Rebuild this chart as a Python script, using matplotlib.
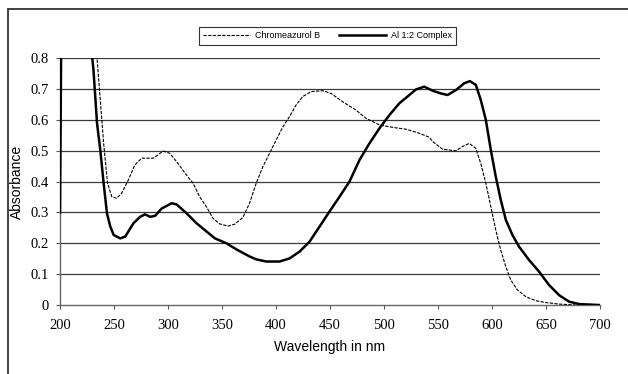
import matplotlib
matplotlib.use("Agg")
import matplotlib.pyplot as plt
from matplotlib.patches import Rectangle

plt.rcParams["font.family"] = "serif"
plt.rcParams["font.serif"] = ["Liberation Serif", "DejaVu Serif"]

# Data
cab_x = [230, 234.3, 237.3, 240.4, 244, 248, 252.4, 257, 263.2, 269.3, 275.5, 286.3, 295.5,
         301.6, 309.3, 317, 323.2, 329.3, 335.5, 341.7, 347.8, 355.5, 361.7, 369.4, 375.5,
         381.7, 387.9, 394, 400.2, 406.4, 412.5, 418.7, 424.8, 432.5, 443.3, 451, 461.8,
         474.1, 483.4, 495.8, 508.1, 520.4, 532.7, 542, 545, 554.3, 566.6, 572.7, 578.9,
         585, 589.6, 594.3, 598.9, 603.5, 608.1, 612.8, 617.4, 623.5, 631.3, 640.5, 649.7,
         662, 677.4]
cab_y = [1.2, 0.80, 0.665, 0.524, 0.395, 0.351, 0.346, 0.362, 0.405, 0.454, 0.476, 0.476,
         0.499, 0.492, 0.459, 0.422, 0.395, 0.351, 0.319, 0.281, 0.263, 0.256, 0.262,
         0.284, 0.330, 0.395, 0.449, 0.492, 0.535, 0.578, 0.611, 0.649, 0.676, 0.692,
         0.695, 0.686, 0.659, 0.632, 0.605, 0.584, 0.576, 0.570, 0.557, 0.544, 0.530,
         0.505, 0.500, 0.514, 0.524, 0.508, 0.459, 0.395, 0.319, 0.243, 0.178, 0.124,
         0.081, 0.049, 0.027, 0.014, 0.008, 0.003, 0.0]

cpx_x = [200, 202, 226, 229.9, 231, 234.3, 237.3, 240.4, 243.5, 246.6, 249.7, 255.8, 260.4,
         268, 274.2, 278.8, 283.4, 288, 294.2, 303.4, 308, 317.3, 326.5, 335.8, 343.5,
         354.2, 363.5, 375.8, 381.7, 391, 403.3, 412.5, 421.8, 431, 440.3, 449.5, 458.8,
         468, 477.3, 486.5, 495.8, 505, 514.2, 523.5, 529.6, 537.3, 545, 552.7, 558.9,
         566.6, 574.3, 579.5, 585, 589.6, 594.3, 598.9, 603.5, 608.1, 612.8, 618.9,
         625.1, 634.3, 643.6, 652.8, 662.1, 671.3, 680.6, 699]
cpx_y = [0.30, 1.3, 1.3, 0.80, 0.762, 0.589, 0.503, 0.395, 0.297, 0.254, 0.227, 0.216,
         0.222, 0.265, 0.286, 0.294, 0.286, 0.289, 0.313, 0.330, 0.326, 0.297, 0.265,
         0.238, 0.216, 0.200, 0.180, 0.157, 0.148, 0.141, 0.141, 0.151, 0.173, 0.205,
         0.254, 0.303, 0.351, 0.400, 0.470, 0.524, 0.573, 0.616, 0.654, 0.681, 0.699,
         0.708, 0.695, 0.686, 0.681, 0.697, 0.719, 0.726, 0.714, 0.665, 0.600, 0.503,
         0.416, 0.341, 0.276, 0.227, 0.189, 0.146, 0.108, 0.065, 0.032, 0.011, 0.003, 0.0]

x_ticks = [200, 250, 300, 350, 400, 450, 500, 550, 600, 650, 700]
y_ticks = [0, 0.1, 0.2, 0.3, 0.4, 0.5, 0.6, 0.7, 0.8]
y_tick_labels = ["0", "0.1", "0.2", "0.3", "0.4", "0.5", "0.6", "0.7", "0.8"]

fig = plt.figure(figsize=(6.28, 3.74), dpi=100)
fig.patch.set_facecolor("white")
fig.add_artist(Rectangle((8 / 628, -0.05), 1.0, 1.05 - 9.5 / 374, transform=fig.transFigure,
                         fill=False, edgecolor="#333333", linewidth=1.3))

ax = fig.add_axes([60 / 628, 1 - 305 / 374, 540 / 628, (305 - 58.3) / 374])
ax.set_xlim(200, 700)
ax.set_ylim(0, 0.8)

for yv in y_ticks[1:]:
    ax.axhline(yv, color="#3a3a3a", linewidth=0.9, zorder=1)

ax.plot(cab_x, cab_y, color="black", linewidth=0.8, linestyle=(0, (3, 1.2)),
        label="Chromeazurol B", zorder=3)
ax.plot(cpx_x, cpx_y, color="black", linewidth=1.8, label="Al 1:2 Complex", zorder=4)

ax.set_xticks(x_ticks)
ax.set_xticklabels([str(v) for v in x_ticks], fontsize=10.5)
ax.set_yticks(y_ticks)
ax.set_yticklabels(y_tick_labels, fontsize=10.5)
ax.tick_params(axis="x", direction="out", length=3, width=0.8, color="#555555", pad=7)
ax.tick_params(axis="y", direction="out", length=3, width=0.8, color="#555555", pad=5)

for s in ["top", "right"]:
    ax.spines[s].set_visible(False)
for s in ["left", "bottom"]:
    ax.spines[s].set_color("#666666")
    ax.spines[s].set_linewidth(1.0)

ax.set_xlabel("Wavelength in nm", family=["Liberation Sans", "DejaVu Sans"], fontsize=10, labelpad=6)
ax.set_ylabel("Absorbance", family=["Liberation Sans", "DejaVu Sans"], fontsize=10, labelpad=5)

leg = fig.legend(loc="center", bbox_to_anchor=(327.5 / 628, 1 - 36 / 374), ncol=2,
                 prop={"family": ["Liberation Sans", "DejaVu Sans"], "size": 6.5}, frameon=True,
                 fancybox=False, edgecolor="black", handlelength=5.2,
                 handletextpad=0.6, columnspacing=2.0, borderpad=0.45)
leg.get_frame().set_linewidth(0.8)

fig.savefig("out.png", dpi=100, facecolor="white")
